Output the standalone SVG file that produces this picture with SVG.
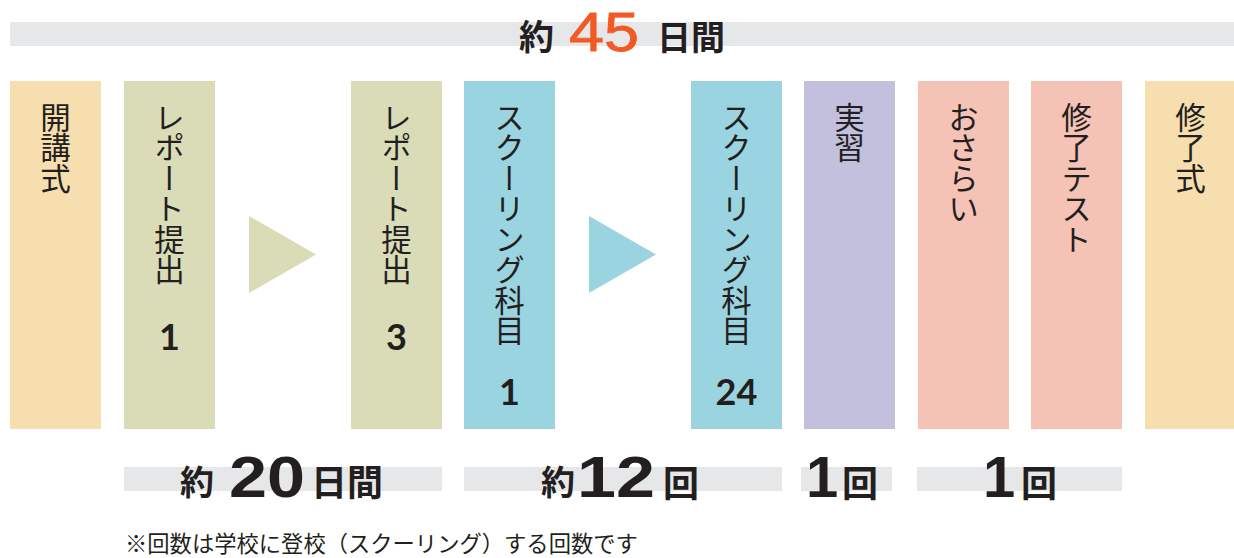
<svg xmlns="http://www.w3.org/2000/svg" width="1234" height="558" viewBox="0 0 1234 558">
<style>
.bar{fill:#e6e7e8}
.c-open{fill:#f6deae}
.c-rep{fill:#dadbb7}
.c-sc{fill:#9bd4e1}
.c-pr{fill:#c3c0de}
.c-rev{fill:#f5c3b5}
.vt{font-family:"Noto Sans CJK JP",sans-serif;font-size:30.5px;fill:#231f20;writing-mode:vertical-rl;text-orientation:mixed}
.num{font-family:Lato,"Liberation Sans",sans-serif;font-weight:700;font-size:36px;fill:#231f20;text-anchor:middle}
.jb{font-family:"Noto Sans CJK JP",sans-serif;font-weight:700;fill:#231f20}
.lb{font-family:"Liberation Sans",Arial,sans-serif;font-weight:700;fill:#231f20}
.note{font-family:"Noto Sans CJK JP",sans-serif;font-size:22.3px;fill:#231f20}
</style>

<g id="top-bar">
<rect class="bar" x="10" y="22" width="1224" height="24"/>
<text class="jb" x="519" y="50" font-size="35">約</text>
<text x="569" y="51" font-family="Liberation Sans, Arial, sans-serif" font-size="55" fill="#f15a24" stroke="#f15a24" stroke-width="0.8" textLength="70" lengthAdjust="spacingAndGlyphs">45</text>
<text class="jb" x="657" y="50" font-size="34">日間</text>
</g>

<g id="node-kaikoushiki">
<rect class="c-open" x="10" y="81" width="91" height="348"/>
<text class="vt" x="55.5" y="102">開講式</text>
</g>

<g id="node-report1">
<rect class="c-rep" x="124" y="81" width="91" height="348"/>
<text class="vt" x="169.5" y="102">レポート提出</text>
<text class="num" x="169.5" y="350">1</text>
</g>

<g id="node-report3">
<rect class="c-rep" x="351" y="81" width="91" height="348"/>
<text class="vt" x="396.5" y="102">レポート提出</text>
<text class="num" x="396.5" y="350">3</text>
</g>

<g id="node-schooling1">
<rect class="c-sc" x="464" y="81" width="91" height="348"/>
<text class="vt" x="509.5" y="102">スクーリング科目</text>
<text class="num" x="509.5" y="405">1</text>
</g>

<g id="node-schooling24">
<rect class="c-sc" x="691" y="81" width="91" height="348"/>
<text class="vt" x="736.5" y="102">スクーリング科目</text>
<text class="num" x="736.5" y="405">24</text>
</g>

<g id="node-jisshu">
<rect class="c-pr" x="804" y="81" width="91" height="348"/>
<text class="vt" x="849.5" y="102">実習</text>
</g>

<g id="node-osarai">
<rect class="c-rev" x="918" y="81" width="91" height="348"/>
<text class="vt" x="963.5" y="102">おさらい</text>
</g>

<g id="node-shuryotest">
<rect class="c-rev" x="1031" y="81" width="91" height="348"/>
<text class="vt" x="1076.5" y="102">修了テスト</text>
</g>

<g id="node-shuryoshiki">
<rect class="c-open" x="1145" y="81" width="91" height="348"/>
<text class="vt" x="1190.5" y="102">修了式</text>
</g>

<g id="connectors">
<polygon points="249,216 316,254.5 249,293" fill="#dadbb7"/>
<polygon points="589,216 656,254.5 589,293" fill="#9bd4e1"/>
</g>

<g id="bottom-20days">
<rect class="bar" x="124" y="467" width="318" height="24"/>
<text class="jb" x="180" y="495" font-size="34">約</text>
<text class="lb" x="229" y="497" font-size="58" textLength="76" lengthAdjust="spacingAndGlyphs">20</text>
<text class="jb" x="311" y="496" font-size="36">日間</text>
</g>

<g id="bottom-12times">
<rect class="bar" x="464" y="467" width="318" height="24"/>
<text class="jb" x="541" y="495" font-size="34">約</text>
<text class="lb" x="577" y="497" font-size="58" textLength="78" lengthAdjust="spacingAndGlyphs">12</text>
<text class="jb" x="663" y="497" font-size="36">回</text>
</g>

<g id="bottom-1time-a">
<rect class="bar" x="801" y="467" width="91" height="24"/>
<text class="lb" x="806" y="497" font-size="58">1</text>
<text class="jb" x="842" y="497" font-size="36">回</text>
</g>

<g id="bottom-1time-b">
<rect class="bar" x="917" y="467" width="205" height="24"/>
<text class="lb" x="983" y="497" font-size="58">1</text>
<text class="jb" x="1021" y="497" font-size="36">回</text>
</g>

<text class="note" x="125" y="552">※回数は学校に登校（スクーリング）する回数です</text>
</svg>
